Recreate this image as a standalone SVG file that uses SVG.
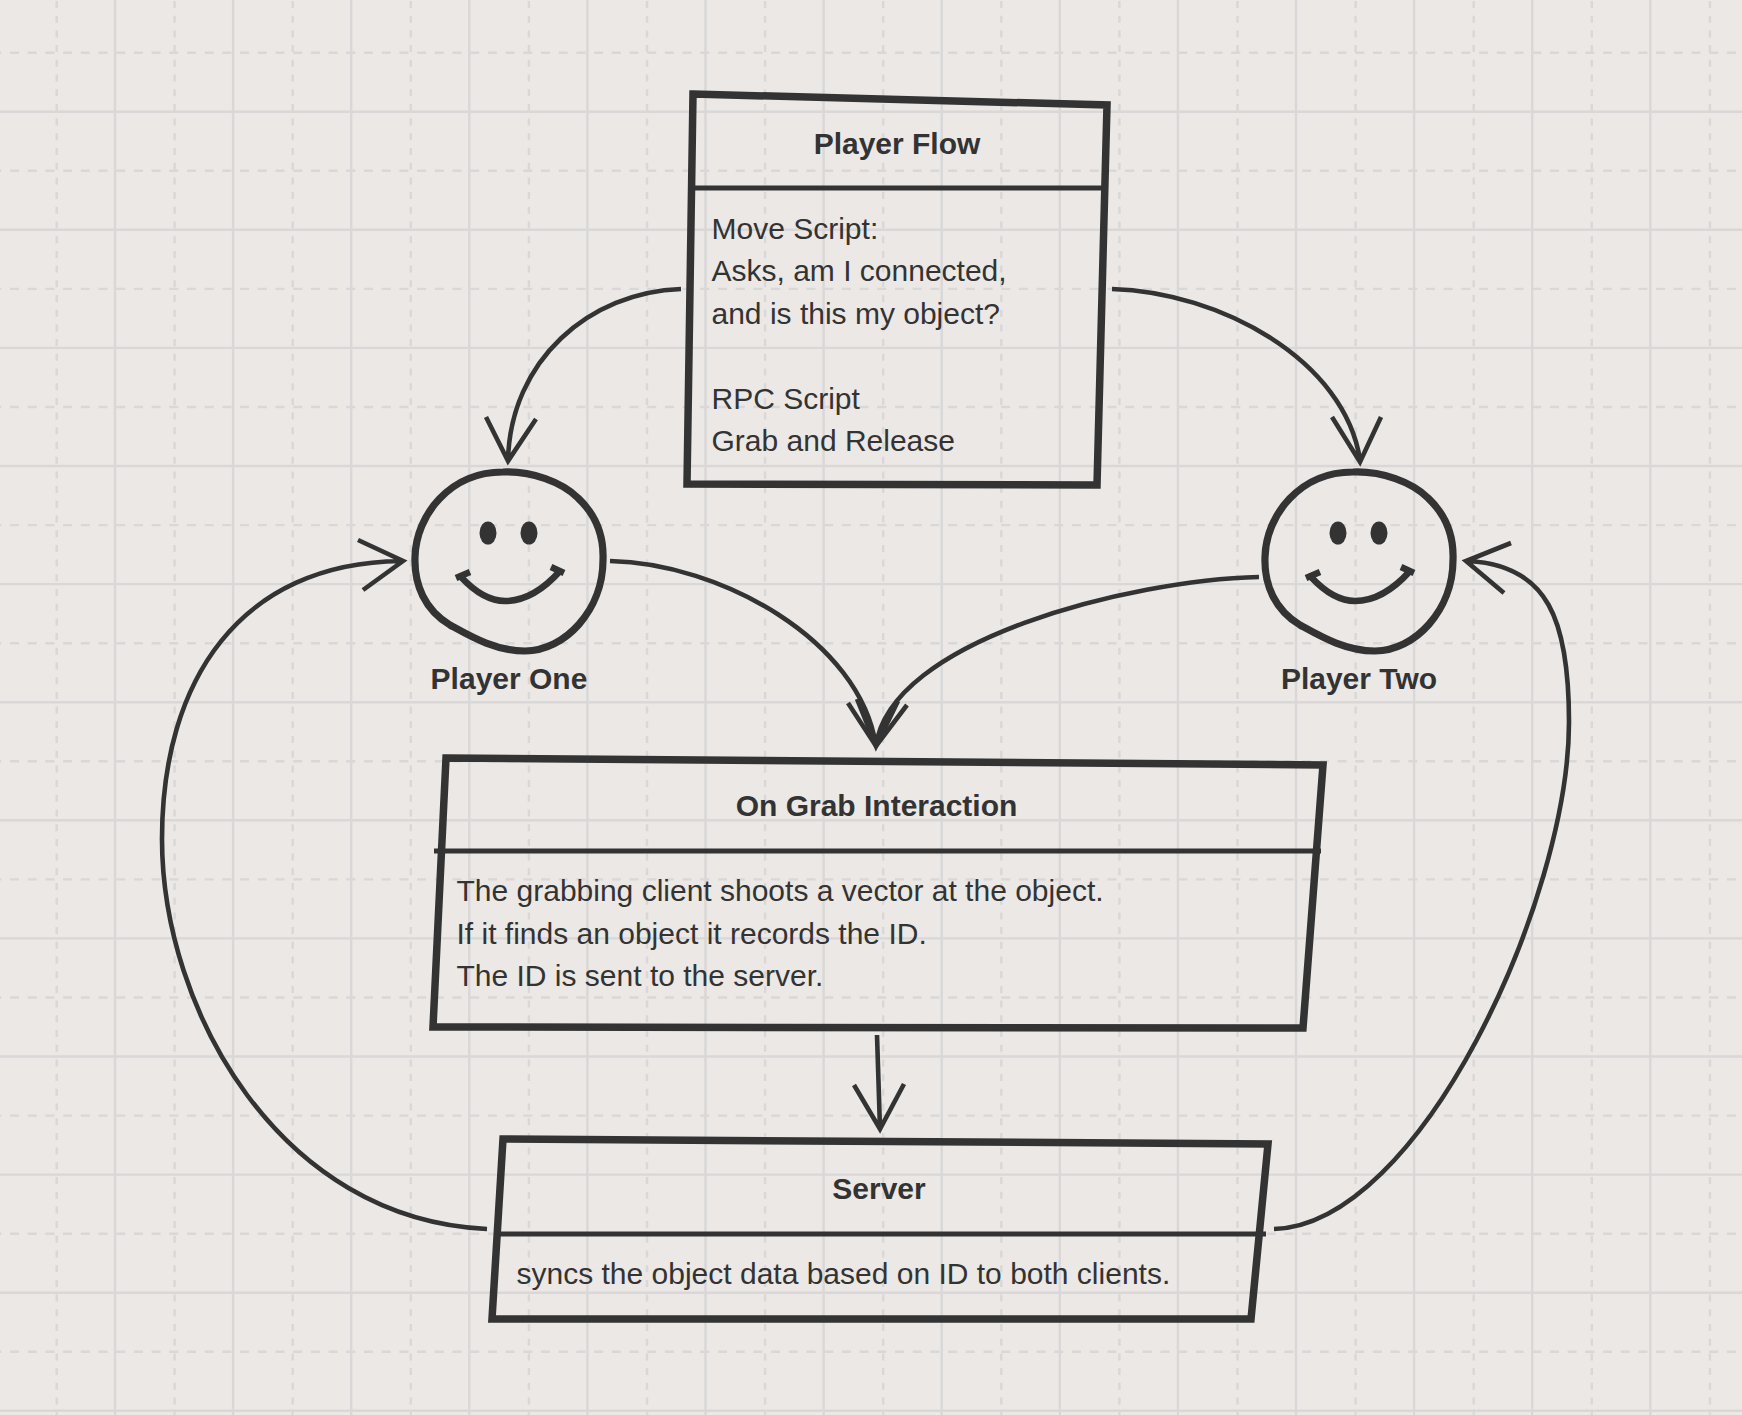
<svg xmlns="http://www.w3.org/2000/svg" width="1742" height="1415" viewBox="0 0 1742 1415">
<style>
.g{fill:none;stroke:#d9d7d7;stroke-width:2.4}
.gh{stroke-dasharray:9 8.7;stroke-dashoffset:-10}
.gv{stroke-dasharray:7 7.7;stroke-dashoffset:-1}
.box{fill:none;stroke:#333;stroke-width:7.5;stroke-linejoin:miter}
.div{fill:none;stroke:#333;stroke-width:4.8}
.c{fill:none;stroke:#333;stroke-width:4.6;stroke-linecap:butt;stroke-linejoin:miter}
.face{fill:none;stroke:#333;stroke-width:7.2}
.mouth{fill:none;stroke:#333;stroke-width:6.5}
.eye{fill:#333}
text{font-family:"Liberation Sans",Arial,sans-serif;font-size:30px;fill:#333}
.t{font-weight:700;text-anchor:middle}
</style>
<defs>
<g id="smiley">
<path class="face" d="M503 472C532 471 562 482 578 498C594 513 604 534 603 560C603 610 565 651 525 651C495 651 470 636 450 625C425 610 414 585 415 557C416 515 450 472 503 472Z"/>
<ellipse class="eye" cx="488" cy="533" rx="8.5" ry="11.5"/>
<ellipse class="eye" cx="529" cy="533" rx="8.5" ry="11.5"/>
<path class="mouth" d="M461 577C475 592 490 601 505 601C525 601 543 590 560 571"/>
<path class="mouth" d="M456 578L470 572M551 567L564 573"/>
</g>
</defs>
<rect width="1742" height="1415" fill="#ebe8e5"/>
<g id="grid">
<path class="g" d="M115 0V1415M233.1 0V1415M351.2 0V1415M469.3 0V1415M587.4 0V1415M705.5 0V1415M823.6 0V1415M941.7 0V1415M1059.8 0V1415M1177.9 0V1415M1296 0V1415M1414.1 0V1415M1532.2 0V1415M1650.3 0V1415M0 111.7H1742M0 229.8H1742M0 347.9H1742M0 466H1742M0 584.1H1742M0 702.2H1742M0 820.3H1742M0 938.4H1742M0 1056.5H1742M0 1174.6H1742M0 1292.7H1742M0 1410.8H1742"/>
<path class="g gv" d="M56.7 0V1415M174.6 0V1415M292.7 0V1415M410.8 0V1415M528.9 0V1415M647 0V1415M765.1 0V1415M883.2 0V1415M1001.3 0V1415M1119.4 0V1415M1237.5 0V1415M1355.6 0V1415M1473.7 0V1415M1591.8 0V1415M1709.9 0V1415"/>
<path class="g gh" d="M0 52.7H1742M0 170.8H1742M0 288.9H1742M0 407H1742M0 525.1H1742M0 643.2H1742M0 761.3H1742M0 879.4H1742M0 997.5H1742M0 1115.6H1742M0 1233.7H1742M0 1351.8H1742"/>
</g>
<g id="connectors">
<path class="c" d="M681 289C590 292 510 360 508 461M486 417L508 461L536 419"/>
<path class="c" d="M1112 289C1220 292 1345 360 1360 460M1332 417L1360 462L1381 417"/>
<path class="c" d="M610 561C720 563 860 640 876 746M848 703L876 746L907 705"/>
<path class="c" d="M857 699L876 746L898 701"/>
<path class="c" d="M1259 577C1130 580 890 640 876 746"/>
<path class="c" d="M877 1035L880 1129M854 1085L880 1129L904 1084"/>
<path class="c" d="M487 1229C280 1220 162 1010 162 839C162 680 240 563 401 561M358 540L403 561L363 590"/>
<path class="c" d="M1274 1229C1420 1225 1569 900 1569 722C1569 620 1548 565 1468 561M1511 543L1466 561L1504 593"/>
</g>
<g id="player-flow">
<path class="box" d="M693 94L1107 105L1097 485L687 484Z"/>
<path class="div" d="M694 188H1102"/>
<text class="t" x="897" y="154">Player Flow</text>
<text x="711.5" y="239">Move Script:</text>
<text x="711.5" y="281">Asks, am I connected,</text>
<text x="711.5" y="324">and is this my object?</text>
<text x="711.5" y="409">RPC Script</text>
<text x="711.5" y="451">Grab and Release</text>
</g>
<g id="player-one">
<use href="#smiley"/>
<text class="t" x="509" y="689">Player One</text>
</g>
<g id="player-two">
<use href="#smiley" x="850"/>
<text class="t" x="1359" y="689">Player Two</text>
</g>
<g id="on-grab">
<path class="box" d="M446 758L1323 765L1303 1028L433 1027Z"/>
<path class="div" d="M434 851H1321"/>
<text class="t" x="876.5" y="816">On Grab Interaction</text>
<text x="456.5" y="901">The grabbing client shoots a vector at the object.</text>
<text x="456.5" y="944">If it finds an object it records the ID.</text>
<text x="456.5" y="986">The ID is sent to the server.</text>
</g>
<g id="server">
<path class="box" d="M503 1139L1268 1144L1251 1319L492 1319Z"/>
<path class="div" d="M500 1234H1266"/>
<text class="t" x="879" y="1199">Server</text>
<text x="516.5" y="1284">syncs the object data based on ID to both clients.</text>
</g>
</svg>
